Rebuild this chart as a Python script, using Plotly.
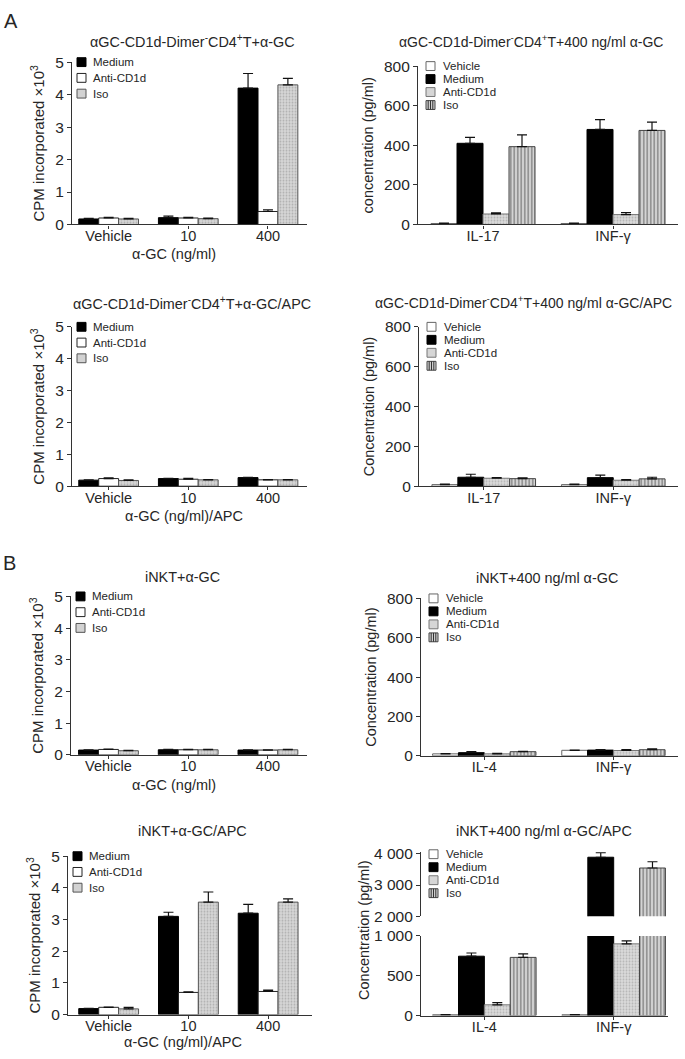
import plotly.graph_objects as go

W, H = 685, 1059

cpm_groups = ["Vehicle", "10", "400"]
il17_groups = ["IL-17", "INF-γ"]
il4_groups = ["IL-4", "INF-γ"]

# A - aGC-CD1d-Dimer-CD4+T + a-GC, proliferation (CPM x10^3)
a1_medium = [0.17, 0.21, 4.2]
a1_medium_err = [0.02, 0.05, 0.45]
a1_anti = [0.2, 0.2, 0.4]
a1_anti_err = [0.02, 0.02, 0.05]
a1_iso = [0.17, 0.18, 4.3]
a1_iso_err = [0.02, 0.02, 0.2]

# A - cytokines, 400 ng/ml a-GC (pg/ml)
a2_vehicle = [5, 5]
a2_vehicle_err = [2, 2]
a2_medium = [410, 480]
a2_medium_err = [30, 50]
a2_anti = [53, 50]
a2_anti_err = [6, 10]
a2_iso = [393, 475]
a2_iso_err = [60, 42]

# A - a-GC/APC, proliferation
a3_medium = [0.19, 0.24, 0.27]
a3_medium_err = [0.01, 0.01, 0.01]
a3_anti = [0.24, 0.22, 0.2]
a3_anti_err = [0.02, 0.03, 0.01]
a3_iso = [0.18, 0.2, 0.2]
a3_iso_err = [0.02, 0.01, 0.01]

# A - cytokines, 400 ng/ml a-GC/APC
a4_vehicle = [8, 8]
a4_vehicle_err = [2, 2]
a4_medium = [45, 43]
a4_medium_err = [15, 13]
a4_anti = [40, 30]
a4_anti_err = [3, 3]
a4_iso = [38, 37]
a4_iso_err = [4, 8]

# B - iNKT + a-GC, proliferation
b1_medium = [0.15, 0.16, 0.15]
b1_medium_err = [0.01, 0.01, 0.01]
b1_anti = [0.17, 0.16, 0.15]
b1_anti_err = [0.01, 0.01, 0.01]
b1_iso = [0.13, 0.16, 0.16]
b1_iso_err = [0.01, 0.01, 0.01]

# B - cytokines, iNKT + 400 ng/ml a-GC
b2_vehicle = [10, 28]
b2_vehicle_err = [1, 1]
b2_medium = [16, 29]
b2_medium_err = [5, 3]
b2_anti = [10, 27]
b2_anti_err = [3, 4]
b2_iso = [21, 31]
b2_iso_err = [2, 5]

# B - iNKT + a-GC/APC, proliferation
b3_medium = [0.19, 3.1, 3.2]
b3_medium_err = [0.01, 0.13, 0.28]
b3_anti = [0.23, 0.7, 0.73]
b3_anti_err = [0.01, 0.02, 0.04]
b3_iso = [0.18, 3.55, 3.55]
b3_iso_err = [0.05, 0.32, 0.1]

# B - cytokines, iNKT + 400 ng/ml a-GC/APC (broken axis)
b4_vehicle = [10, 10]
b4_vehicle_err = [1, 1]
b4_medium = [745, 3890]
b4_medium_err = [40, 150]
b4_anti = [135, 900]
b4_anti_err = [28, 37]
b4_iso = [730, 3545]
b4_iso_err = [45, 200]

cpm_ticks = [0, 1, 2, 3, 4, 5]
conc_ticks = [0, 200, 400, 600, 800]

TXT = "#262626"
AX = "#333333"


def fx(p):
    return p / W


def fy(p):
    return 1 - p / H


def styles(kind, name):
    if name == "Medium":
        return dict(color="black", line="black", pattern=None)
    if name == "Vehicle":
        return dict(color="white", line="#666", pattern=None)
    if kind == "cpm" and name == "Anti-CD1d":
        return dict(color="white", line="#222", pattern=None)
    if kind == "cpm" and name == "Iso":
        return dict(color="#d2d2d2", line="#555",
                    pattern=dict(shape=".", fgcolor="#8a8a8a", bgcolor="#d6d6d6", size=3, solidity=0.3))
    if name == "Anti-CD1d":
        return dict(color="#d6d6d6", line="#777",
                    pattern=dict(shape=".", fgcolor="#8f8f8f", bgcolor="#dadada", size=3, solidity=0.3))
    return dict(color="#cfcfcf", line="#444",
                pattern=dict(shape="|", fgcolor="#333", bgcolor="#d4d4d4", size=3.5, solidity=0.4))


cpm_title = "CPM incorporated ×10<sup>3</sup>"
dimer = "αGC-CD1d-Dimer<sup>-</sup>CD4<sup>+</sup>T"

panels = [
    dict(kind="cpm", cats=cpm_groups, title=dimer + "+α-GC", tx=192, ty=33, tsize=14.4,
         series=[("Medium", a1_medium, a1_medium_err), ("Anti-CD1d", a1_anti, a1_anti_err),
                 ("Iso", a1_iso, a1_iso_err)],
         xdom=(72, 307), ydom=(54, 219), xr=(-0.46, 2.49), ytitle=cpm_title,
         xtitle=("α-GC (ng/ml)", 174, 249)),
    dict(kind="conc", cats=il17_groups, title=dimer + "+400 ng/ml α-GC", tx=531, ty=33, tsize=14,
         series=[("Vehicle", a2_vehicle, a2_vehicle_err), ("Medium", a2_medium, a2_medium_err),
                 ("Anti-CD1d", a2_anti, a2_anti_err), ("Iso", a2_iso, a2_iso_err)],
         xdom=(418, 678), ydom=(58, 219), xr=(-0.5, 1.5), ytitle="concentration (pg/ml)", xtitle=None),
    dict(kind="cpm", cats=cpm_groups, title=dimer + "+α-GC/APC", tx=192, ty=299, tsize=14.4,
         series=[("Medium", a3_medium, a3_medium_err), ("Anti-CD1d", a3_anti, a3_anti_err),
                 ("Iso", a3_iso, a3_iso_err)],
         xdom=(72, 307), ydom=(323, 485), xr=(-0.46, 2.49), ytitle=cpm_title,
         xtitle=("α-GC (ng/ml)/APC", 184, 515)),
    dict(kind="conc", cats=il17_groups, title=dimer + "+400 ng/ml α-GC/APC", tx=523, ty=298, tsize=14,
         series=[("Vehicle", a4_vehicle, a4_vehicle_err), ("Medium", a4_medium, a4_medium_err),
                 ("Anti-CD1d", a4_anti, a4_anti_err), ("Iso", a4_iso, a4_iso_err)],
         xdom=(419, 678), ydom=(323, 485), xr=(-0.5, 1.5), ytitle="Concentration (pg/ml)", xtitle=None),
    dict(kind="cpm", cats=cpm_groups, title="iNKT+α-GC", tx=182, ty=577, tsize=14.4,
         series=[("Medium", b1_medium, b1_medium_err), ("Anti-CD1d", b1_anti, b1_anti_err),
                 ("Iso", b1_iso, b1_iso_err)],
         xdom=(71, 307), ydom=(597, 758), xr=(-0.47, 2.49), ytitle=cpm_title,
         xtitle=("α-GC (ng/ml)", 174, 789)),
    dict(kind="conc", cats=il4_groups, title="iNKT+400 ng/ml α-GC", tx=547, ty=578, tsize=14.4,
         series=[("Vehicle", b2_vehicle, b2_vehicle_err), ("Medium", b2_medium, b2_medium_err),
                 ("Anti-CD1d", b2_anti, b2_anti_err), ("Iso", b2_iso, b2_iso_err)],
         xdom=(421, 678), ydom=(599, 759), xr=(-0.49, 1.5), ytitle="Concentration (pg/ml)", xtitle=None),
    dict(kind="cpm", cats=cpm_groups, title="iNKT+α-GC/APC", tx=192, ty=835, tsize=14.4,
         series=[("Medium", b3_medium, b3_medium_err), ("Anti-CD1d", b3_anti, b3_anti_err),
                 ("Iso", b3_iso, b3_iso_err)],
         xdom=(68, 312), ydom=(861, 1022), xr=(-0.51, 2.55), ytitle=cpm_title,
         xtitle=("α-GC (ng/ml)/APC", 183, 1050)),
    dict(kind="conc", cats=il4_groups, title="iNKT+400 ng/ml α-GC/APC", tx=544, ty=835, tsize=14.4,
         series=[("Vehicle", b4_vehicle, b4_vehicle_err), ("Medium", b4_medium, b4_medium_err),
                 ("Anti-CD1d", b4_anti, b4_anti_err), ("Iso", b4_iso, b4_iso_err)],
         xdom=(421, 668), ydom=(942, 1023), xr=(-0.49, 1.42), ytitle=None, xtitle=None),
]

fig = go.Figure()
shapes = []
annotations = []


def sfx(i):
    return "" if i == 1 else str(i)


def note(text, x, y, size, **kw):
    annotations.append(dict(text=text, x=fx(x), y=fy(y), xref="paper", yref="paper", showarrow=False,
                            xanchor=kw.pop("xanchor", "center"), yanchor="middle",
                            font=dict(size=size), **kw))


def add_bars(p, xa, ya):
    n = len(p["series"])
    w = 0.25 if p["kind"] == "cpm" else 0.2
    for k, (name, vals, errs) in enumerate(p["series"]):
        st = styles(p["kind"], name)
        marker = dict(color=st["color"], line=dict(color=st["line"], width=1))
        if st["pattern"]:
            marker["pattern"] = st["pattern"]
        fig.add_trace(go.Bar(
            x=p["cats"], y=vals, name=name, width=w, offset=-n * w / 2 + k * w,
            xaxis=xa, yaxis=ya, marker=marker, showlegend=False,
            error_y=dict(type="data", array=errs, arrayminus=[0] * len(errs), symmetric=False,
                         color="#111", thickness=1.2, width=5),
        ))


axis_common = dict(showline=True, linecolor=AX, linewidth=1.2, ticks="outside", ticklen=4,
                   tickcolor=AX, tickwidth=1.2, showgrid=False, zeroline=False, fixedrange=True)

for i, p in enumerate(panels, start=1):
    xa, ya = "x" + sfx(i), "y" + sfx(i)
    add_bars(p, xa, ya)

    fig.layout["xaxis" + sfx(i)] = dict(
        axis_common, type="category", domain=[fx(p["xdom"][0]), fx(p["xdom"][1])], anchor=ya,
        range=list(p["xr"]), ticklen=3, ticklabelstandoff=-5, tickfont=dict(size=14.5))

    if p["kind"] == "cpm":
        yrange, tv, tt = [0, 5], cpm_ticks, [str(t) for t in cpm_ticks]
    elif i == 8:
        yrange, tv, tt = [0, 1000], [0, 500, 1000], ["0", "500", "1 000"]
    else:
        yrange, tv, tt = [0, 800], conc_ticks, [str(t) for t in conc_ticks]
    fig.layout["yaxis" + sfx(i)] = dict(
        axis_common, domain=[fy(p["ydom"][1]), fy(p["ydom"][0])], anchor=xa, range=yrange,
        tickvals=tv, ticktext=tt, tickfont=dict(size=15.5),
        title=dict(text=p["ytitle"], font=dict(size=15 if p["kind"] == "cpm" else 14.5), standoff=6)
        if p["ytitle"] else None)

    note(p["title"], p["tx"], p["ty"], p["tsize"])
    if p["xtitle"]:
        note(p["xtitle"][0], p["xtitle"][1], p["xtitle"][2], 14.5)

    # legend swatches and labels
    left = p["xdom"][0]
    top = p["ydom"][0] if i != 8 else 859
    if p["kind"] == "cpm":
        sx, step, gap = left + 5, 16, 14
    else:
        sx, step, gap = left + 8, 13.2, 15
    for k, (name, _, _) in enumerate(p["series"]):
        cy = top + k * step
        st = styles(p["kind"], name)
        shapes.append(dict(type="rect", xref="paper", yref="paper",
                           x0=fx(sx), x1=fx(sx + 9), y0=fy(cy + 4.5), y1=fy(cy - 4.5),
                           fillcolor=st["color"], line=dict(color=st["line"], width=1)))
        if p["kind"] == "conc" and name == "Iso":
            for d in (2.2, 4.5, 6.8):
                shapes.append(dict(type="line", xref="paper", yref="paper",
                                   x0=fx(sx + d), x1=fx(sx + d), y0=fy(cy + 4.5), y1=fy(cy - 4.5),
                                   line=dict(color="#333", width=1)))
        note(name, sx + gap, cy, 11.5, xanchor="left")

# upper segment of the broken axis in the last panel
add_bars(panels[7], "x8", "y9")
fig.layout["yaxis9"] = dict(
    axis_common, domain=[fy(922), fy(857)], anchor="x8", range=[2000, 4050],
    tickvals=[2000, 3000, 4000], ticktext=["2 000", "3 000", "4 000"], tickfont=dict(size=15.5))
note("Concentration (pg/ml)", 364, 937, 14.5, textangle=-90)

note("A", 11, 12, 20)
note("B", 9, 563, 20)

fig.update_layout(
    width=W, height=H, margin=dict(l=0, r=0, t=0, b=0),
    paper_bgcolor="white", plot_bgcolor="white", barmode="overlay", showlegend=False,
    font=dict(family="Liberation Sans, Arial, sans-serif", color=TXT),
    shapes=shapes, annotations=annotations,
)

# the page body keeps its default 8px margin otherwise
fig.write_html("out.html", config={"displayModeBar": False},
               post_script="document.body.style.margin='0';")
